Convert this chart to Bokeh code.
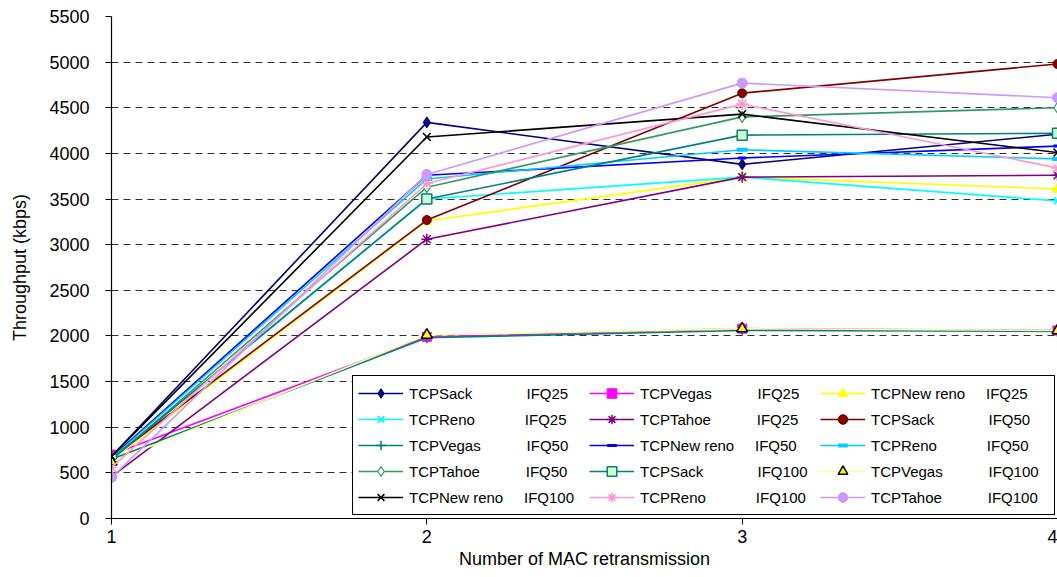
from bokeh.plotting import figure
from bokeh.models import Range1d, FixedTicker, Legend, LegendItem, ColumnDataSource
from bokeh.embed import file_html
from bokeh.resources import INLINE

# ---------------- data ----------------
retransmissions = [1, 2, 3, 4]
x_tick_values = [1, 2, 3, 4]
y_tick_values = [0, 500, 1000, 1500, 2000, 2500, 3000, 3500, 4000, 4500, 5000, 5500]

sack_ifq25 = [680, 4340, 3880, 4210]
vegas_ifq25 = [700, 1990, 2080, 2060]
newreno_ifq25 = [640, 3260, 3740, 3610]
reno_ifq25 = [650, 3500, 3740, 3480]
tahoe_ifq25 = [460, 3060, 3740, 3760]
sack_ifq50 = [660, 3270, 4660, 4980]
vegas_ifq50 = [650, 1980, 2060, 2050]
newreno_ifq50 = [670, 3760, 3950, 4080]
reno_ifq50 = [660, 3720, 4040, 3940]
tahoe_ifq50 = [640, 3630, 4400, 4500]
sack_ifq100 = [650, 3500, 4200, 4220]
vegas_ifq100 = [620, 2010, 2080, 2060]
newreno_ifq100 = [680, 4180, 4430, 4010]
reno_ifq100 = [560, 3670, 4540, 3840]
tahoe_ifq100 = [450, 3770, 4770, 4610]

protocols = ["TCPSack", "TCPVegas", "TCPNew reno", "TCPReno", "TCPTahoe",
             "TCPSack", "TCPVegas", "TCPNew reno", "TCPReno", "TCPTahoe",
             "TCPSack", "TCPVegas", "TCPNew reno", "TCPReno", "TCPTahoe"]
queues = ["IFQ25"] * 5 + ["IFQ50"] * 5 + ["IFQ100"] * 5
values = [sack_ifq25, vegas_ifq25, newreno_ifq25, reno_ifq25, tahoe_ifq25,
          sack_ifq50, vegas_ifq50, newreno_ifq50, reno_ifq50, tahoe_ifq50,
          sack_ifq100, vegas_ifq100, newreno_ifq100, reno_ifq100, tahoe_ifq100]

# ---------------- styles ----------------
styles = [
    dict(line="#000080", marker="diamond", fill="#000080", mline="#000080", size=11, mlw=1),
    dict(line="#FF00FF", marker="square", fill="#FF00FF", mline="#FF00FF", size=9, mlw=1),
    dict(line="#FFFF00", marker="triangle", fill="#FFFF00", mline="#FFFF00", size=11, mlw=1),
    dict(line="#00FFFF", marker="x", fill=None, mline="#00FFFF", size=10, mlw=1.5),
    dict(line="#800080", marker="asterisk", fill=None, mline="#800080", size=11, mlw=1.5),
    dict(line="#800000", marker="circle", fill="#800000", mline="#800000", size=9, mlw=1),
    dict(line="#008080", marker="cross", fill=None, mline="#008080", size=11, mlw=1.5),
    dict(line="#0000FF", marker="dash", fill=None, mline="#0000FF", size=8, mlw=3),
    dict(line="#00CCFF", marker="dash", fill=None, mline="#00CCFF", size=11, mlw=4),
    dict(line="#339966", marker="diamond", fill="#FFFFFF", mline="#339966", size=11, mlw=1.2),
    dict(line="#008080", marker="square", fill="#CCFFCC", mline="#008080", size=10, mlw=1.5),
    dict(line="#FFFF99", marker="triangle", fill="#FFFF00", mline="#000000", size=11, mlw=1.5),
    dict(line="#000000", marker="x", fill=None, mline="#000000", size=11, mlw=1.5),
    dict(line="#FF99CC", marker="asterisk", fill=None, mline="#FF99CC", size=12, mlw=1.5),
    dict(line="#CC99FF", marker="circle", fill="#CC99FF", mline="#CC99FF", size=10, mlw=1),
]
pad = {"TCPSack": 13, "TCPVegas": 11, "TCPNew reno": 5, "TCPReno": 12, "TCPTahoe": 11}

FONT = "Liberation Sans"

p = figure(width=1057, height=577, output_backend="svg", toolbar_location=None,
           x_range=Range1d(1, 4), y_range=Range1d(0, 5500),
           min_border_left=111, min_border_right=0, min_border_top=16, min_border_bottom=59)
p.outline_line_color = None
p.background_fill_color = "white"
p.border_fill_color = "white"

p.xgrid.visible = False
p.ygrid.ticker = FixedTicker(ticks=y_tick_values)
p.ygrid.grid_line_color = "#303030"
p.ygrid.grid_line_dash = "7 5"
p.ygrid.grid_line_width = 1

p.xaxis.ticker = FixedTicker(ticks=x_tick_values)
p.yaxis.ticker = FixedTicker(ticks=y_tick_values)
for ax in (p.xaxis[0], p.yaxis[0]):
    ax.axis_line_color = "black"
    ax.axis_line_width = 1.2
    ax.major_tick_line_color = "black"
    ax.major_tick_out = 6
    ax.major_tick_in = 0
    ax.minor_tick_line_color = None
    ax.major_label_text_font = FONT
    ax.major_label_text_font_size = "18px"
    ax.major_label_text_color = "black"
    ax.axis_label_text_font = FONT
    ax.axis_label_text_font_size = "18px"
    ax.axis_label_text_font_style = "normal"
    ax.axis_label_text_color = "black"

p.xaxis.axis_label = "Number of MAC retransmission"
p.xaxis.major_label_standoff = 5
p.xaxis.axis_label_standoff = 3
p.yaxis.axis_label = "Throughput (kbps)"
p.yaxis.major_label_standoff = 16
p.yaxis.axis_label_standoff = 16

items = []
for name, q, vals, st in zip(protocols, queues, values, styles):
    src = ColumnDataSource(data=dict(x=retransmissions, y=vals))
    lr = p.line("x", "y", source=src, line_color=st["line"], line_width=1.6)
    sr = p.scatter("x", "y", source=src, marker=st["marker"], size=st["size"],
                   fill_color=st["fill"], line_color=st["mline"], line_width=st["mlw"])
    label = name + "\u00a0" * pad[name] + q
    items.append(LegendItem(label=label, renderers=[lr, sr]))

legend = Legend(items=items, ncols=3, orientation="horizontal", location=(241, 3), margin=0,
                padding=5, spacing=2, glyph_width=45, glyph_height=24, label_standoff=6,
                label_width=178, label_height=24, label_text_font=FONT,
                label_text_font_size="15px", label_text_color="black",
                border_line_color="black", border_line_width=1, border_line_alpha=1,
                background_fill_color="white", background_fill_alpha=1)
p.add_layout(legend)

open("out.html", "w").write(file_html(p, INLINE))
